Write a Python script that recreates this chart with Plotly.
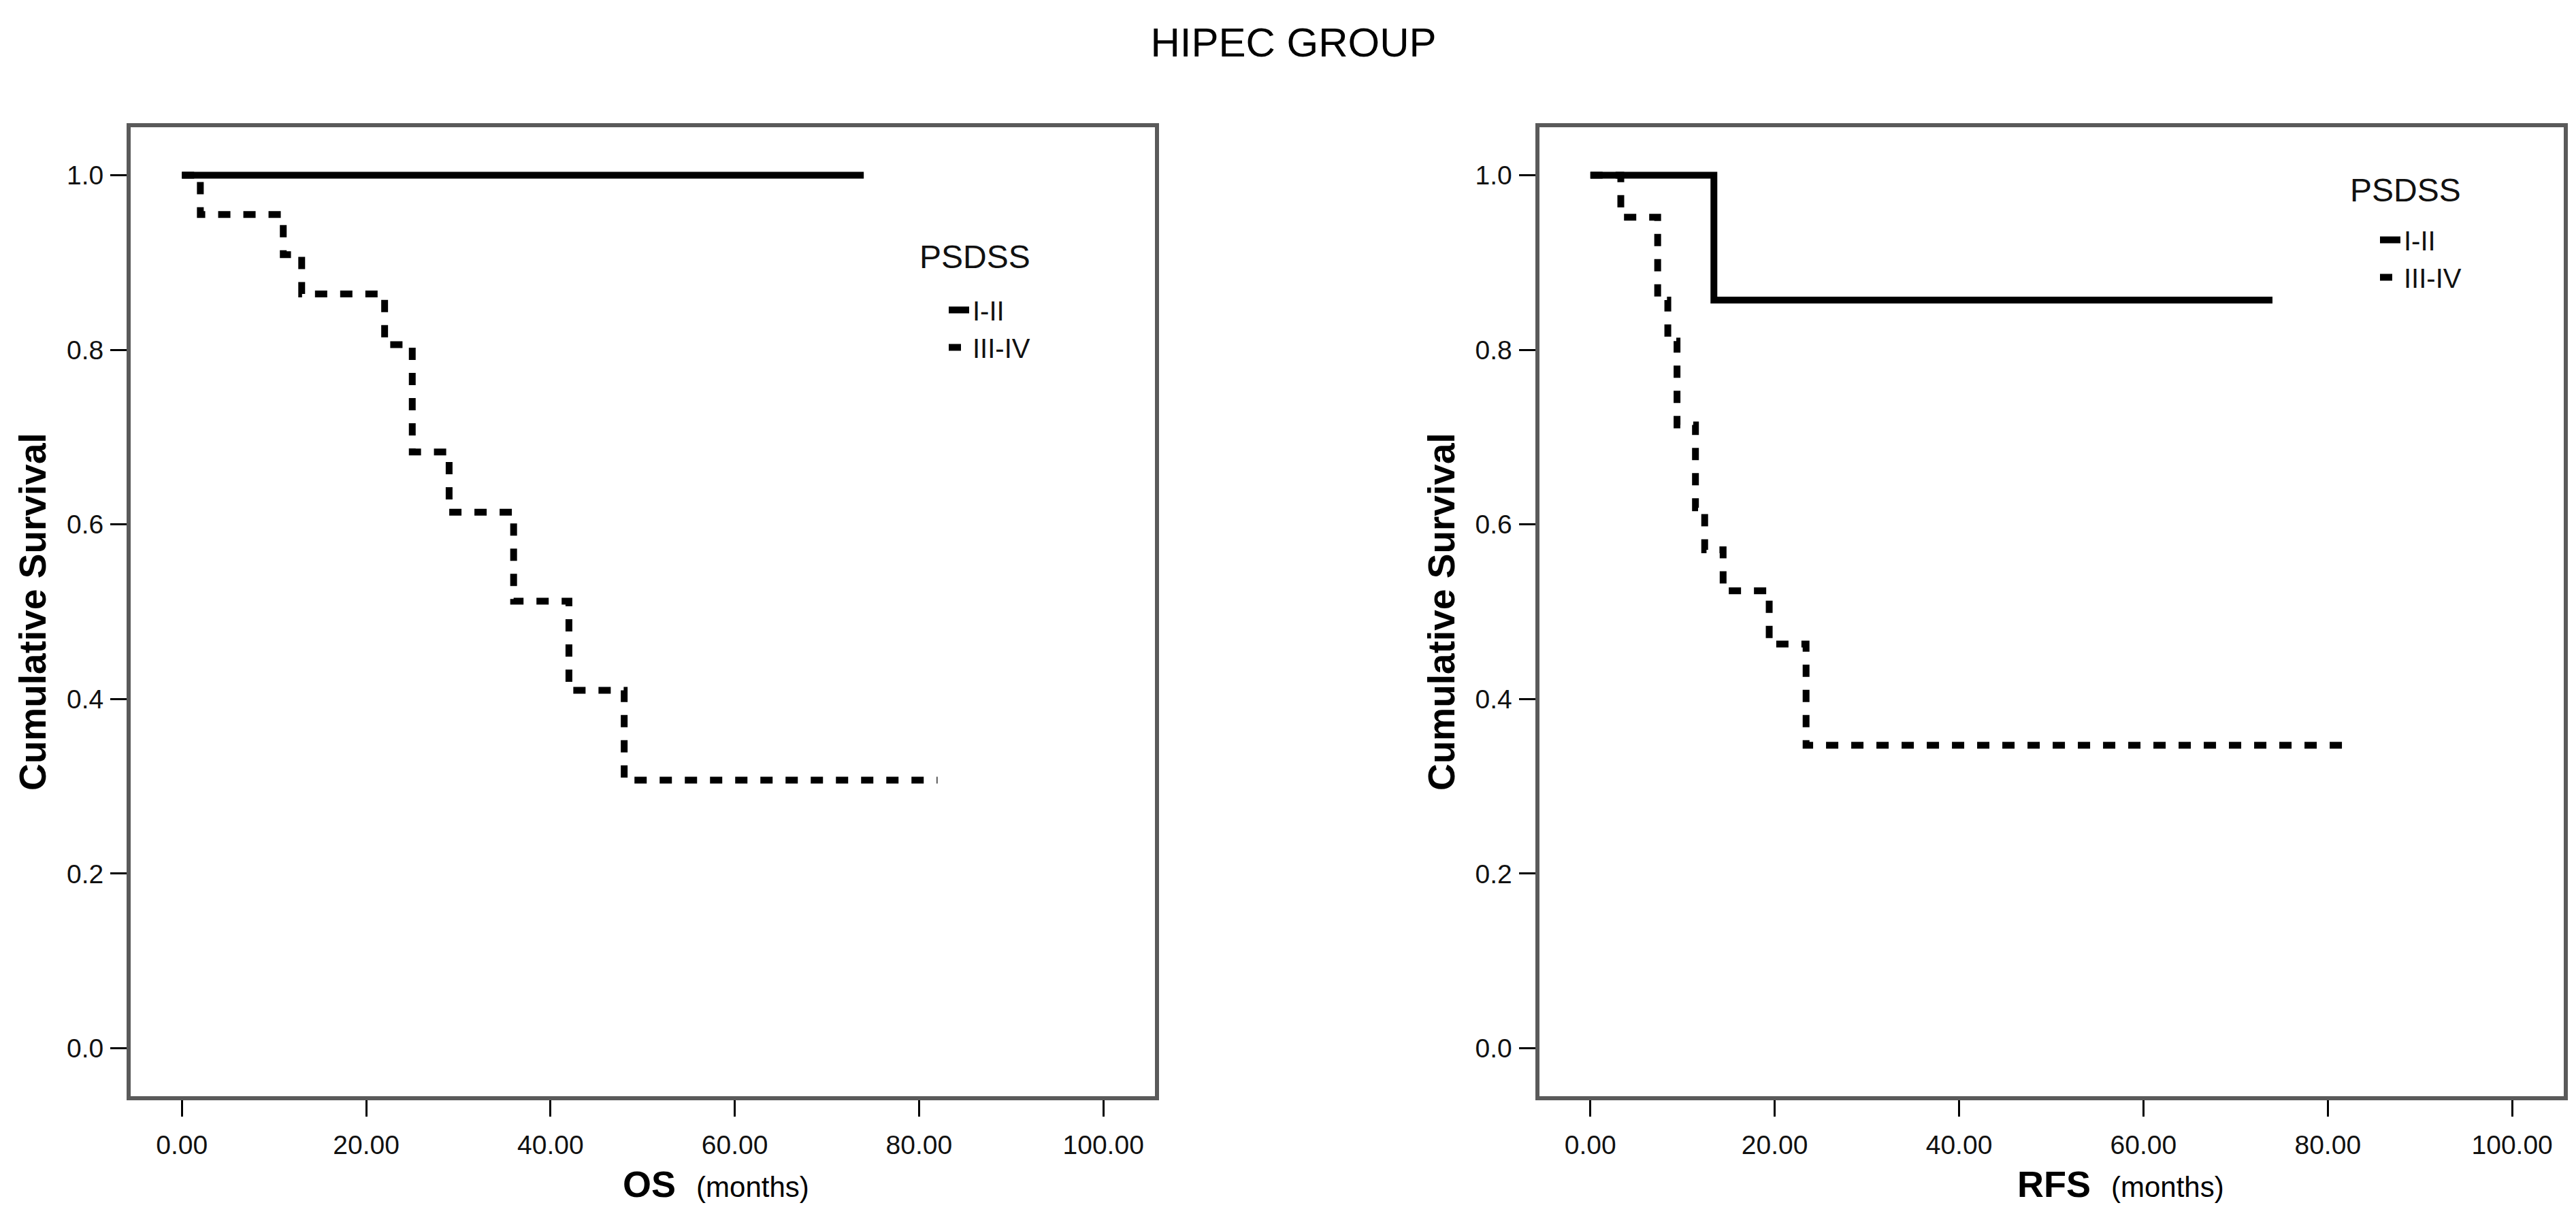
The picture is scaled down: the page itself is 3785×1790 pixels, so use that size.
import plotly.graph_objects as go

# ---------------- data ----------------
os_i_ii_time = [0, 74]
os_i_ii_surv = [1.0, 1.0]
os_iii_iv_time = [0, 2, 11, 13, 22, 25, 29, 36, 42, 48, 82]
os_iii_iv_surv = [1.0, 0.955, 0.909, 0.864, 0.806, 0.683, 0.614, 0.512, 0.410, 0.307, 0.307]

rfs_i_ii_time = [0, 13.4, 74]
rfs_i_ii_surv = [1.0, 0.857, 0.857]
rfs_iii_iv_time = [0, 3.3, 7.3, 8.4, 9.4, 11.4, 12.4, 14.4, 19.4, 23.4, 82.2]
rfs_iii_iv_surv = [1.0, 0.952, 0.857, 0.810, 0.714, 0.619, 0.571, 0.524, 0.463, 0.347, 0.347]

group_labels = ["I-II", "III-IV"]
legend_title = "PSDSS"
x_ticks = [0, 20, 40, 60, 80, 100]
y_ticks = [0.0, 0.2, 0.4, 0.6, 0.8, 1.0]
main_title = "HIPEC GROUP"
y_title = "Cumulative Survival"
x_titles = ["OS", "RFS"]
x_unit = "(months)"

# ---------------- layout geometry ----------------
W, H = 3785, 1790
FONT = "Liberation Sans, Arial, sans-serif"
left_dom = [184 / W, 1689 / W]
right_dom = [2253.5 / W, 3759 / W]
y_dom = [187 / H, 1611 / H]

SOLID = dict(color="black", width=10)
DASHED = dict(color="black", width=10, dash="18px,19px")

fig = go.Figure()

def add_pair(t1, s1, t2, s2, xa, ya, leg):
    fig.add_trace(go.Scatter(x=t2, y=s2, mode="lines", line=DASHED, line_shape="hv",
                             name=group_labels[1], xaxis=xa, yaxis=ya, legend=leg,
                             legendrank=2))
    fig.add_trace(go.Scatter(x=t1, y=s1, mode="lines", line=SOLID, line_shape="hv",
                             name=group_labels[0], xaxis=xa, yaxis=ya, legend=leg,
                             legendrank=1))

add_pair(os_i_ii_time, os_i_ii_surv, os_iii_iv_time, os_iii_iv_surv, "x", "y", "legend")
add_pair(rfs_i_ii_time, rfs_i_ii_surv, rfs_iii_iv_time, rfs_iii_iv_surv, "x2", "y2", "legend2")

xcommon = dict(range=[-5.56, 105.6], tickvals=x_ticks, tickformat=".2f",
               ticks="outside", ticklen=24, tickwidth=3, tickcolor="black",
               showline=True, linecolor="#5a5a5a", linewidth=6, mirror=True,
               showgrid=False, zeroline=False, ticklabelstandoff=8,
               tickfont=dict(family=FONT, size=39, color="#111111"))
ycommon = dict(range=[-0.055, 1.055], tickvals=y_ticks, tickformat=".1f",
               ticks="outside", ticklen=24, tickwidth=3, tickcolor="black",
               showline=True, linecolor="#5a5a5a", linewidth=6, mirror=True,
               showgrid=False, zeroline=False, ticklabelstandoff=2,
               tickfont=dict(family=FONT, size=39, color="#111111"))

legcommon = dict(bgcolor="rgba(0,0,0,0)", borderwidth=0, xanchor="left", yanchor="top",
                 font=dict(family=FONT, size=40, color="#111111"),
                 itemwidth=30, tracegroupgap=0)

annotations = []
for xc in [40 / W, 2110 / W]:
    annotations.append(dict(text="<b>" + y_title + "</b>", textangle=-90, xref="paper", yref="paper",
                            x=xc, y=(y_dom[0] + y_dom[1]) / 2, xanchor="center", yanchor="middle",
                            showarrow=False, font=dict(family=FONT, size=55, color="black")))
for xs, lab in zip([905 / W, 2954 / W], x_titles):
    annotations.append(dict(text="<b>" + lab + "</b>\u00a0\u00a0<span style='font-size:42px'>" + x_unit + "</span>",
                            xref="paper", yref="paper", x=xs, y=(H - 1732) / H,
                            xanchor="left", yanchor="middle", showarrow=False,
                            font=dict(family=FONT, size=54, color="black")))
# legend headings
for xs, yc in [(1341 / W, (H - 370) / H), (3443 / W, (H - 272) / H)]:
    annotations.append(dict(text=legend_title, xref="paper", yref="paper", x=xs, y=yc,
                            xanchor="left", yanchor="middle", showarrow=False,
                            font=dict(family=FONT, size=48, color="#111111")))

fig.update_layout(
    width=W, height=H, margin=dict(l=0, r=0, t=0, b=0),
    paper_bgcolor="white", plot_bgcolor="white",
    title=dict(text=main_title, x=0.5, xanchor="center", y=1 - 54 / H, yanchor="middle",
               font=dict(family=FONT, size=60, color="black")),
    xaxis=dict(domain=left_dom, anchor="y", **xcommon),
    yaxis=dict(domain=y_dom, anchor="x", **ycommon),
    xaxis2=dict(domain=right_dom, anchor="y2", **xcommon),
    yaxis2=dict(domain=y_dom, anchor="x2", **ycommon),
    legend=dict(x=1381 / W, y=(H - 415) / H, **legcommon),
    legend2=dict(x=3484 / W, y=(H - 312) / H, **legcommon),
    annotations=annotations,
    showlegend=True,
)

fig.write_html("out.html")
